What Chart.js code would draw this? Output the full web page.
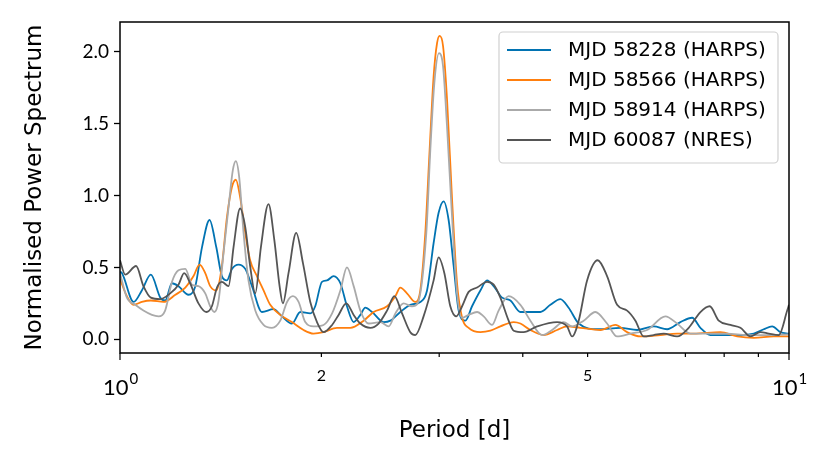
<!DOCTYPE html>
<html>
<head>
<meta charset="utf-8">
<script src="https://cdn.jsdelivr.net/npm/chart.js@4.4.0/dist/chart.umd.min.js"></script>
<style>
  html, body { margin: 0; padding: 0; background: #fff; }
  #wrap { width: 831px; height: 465px; }
</style>
</head>
<body>
<div id="wrap"><canvas id="chart" width="831" height="465"></canvas></div>
<script>
// Normalised periodograms, values (period in days)
const seriesLabels = ['MJD 58228 (HARPS)', 'MJD 58566 (HARPS)', 'MJD 58914 (HARPS)', 'MJD 60087 (NRES)'];
const seriesColors = ['#0173b2', '#ff7f0e', '#aaaaaa', '#555555'];

const periods58228 = [1.000,1.007,1.048,1.078,1.112,1.149,1.168,1.196,1.223,1.266,1.296,1.326,1.361,1.393,1.420,1.445,1.470,1.504,1.539,1.575,1.630,1.696,1.746,1.807,1.860,1.925,1.958,2.004,2.039,2.086,2.135,2.184,2.235,2.287,2.326,2.381,2.478,2.536,2.624,2.716,2.811,2.877,2.943,2.994,3.046,3.099,3.153,3.208,3.283,3.359,3.457,3.537,3.619,3.725,3.833,3.967,4.250,4.399,4.552,4.684,4.849,5.194,5.597,5.928,6.277,6.573,6.881,7.164,7.372,7.630,8.083,8.461,8.858,9.168,9.437,9.710,10.000];
const power58228 = [0.47,0.46,0.26,0.34,0.45,0.29,0.27,0.39,0.37,0.31,0.37,0.64,0.83,0.64,0.44,0.41,0.49,0.52,0.49,0.37,0.19,0.21,0.16,0.11,0.19,0.18,0.23,0.40,0.41,0.44,0.39,0.23,0.12,0.17,0.22,0.19,0.12,0.13,0.19,0.24,0.26,0.34,0.67,0.88,0.96,0.83,0.51,0.20,0.13,0.23,0.34,0.41,0.37,0.29,0.27,0.19,0.19,0.24,0.28,0.22,0.11,0.07,0.08,0.065,0.09,0.07,0.12,0.15,0.08,0.03,0.03,0.03,0.04,0.07,0.09,0.05,0.04];

const periods58566 = [1.000,1.024,1.048,1.078,1.112,1.162,1.210,1.252,1.288,1.315,1.341,1.364,1.393,1.420,1.445,1.470,1.490,1.512,1.539,1.565,1.602,1.639,1.677,1.736,1.807,1.881,1.947,2.015,2.110,2.209,2.313,2.394,2.507,2.580,2.624,2.685,2.763,2.811,2.860,2.903,2.943,2.978,3.005,3.040,3.082,3.136,3.190,3.246,3.320,3.457,3.578,3.703,3.877,3.967,4.106,4.298,4.501,4.659,4.877,5.225,5.501,5.728,5.996,6.423,6.803,7.204,7.898,8.366,8.858,9.489,10.000];
const power58566 = [0.42,0.30,0.24,0.26,0.27,0.26,0.31,0.36,0.44,0.52,0.46,0.37,0.34,0.51,0.85,1.06,1.11,0.99,0.74,0.55,0.44,0.34,0.24,0.17,0.12,0.065,0.04,0.05,0.08,0.08,0.13,0.19,0.23,0.30,0.36,0.32,0.26,0.34,0.74,1.32,1.83,2.06,2.11,2.04,1.67,0.97,0.39,0.15,0.08,0.05,0.06,0.09,0.12,0.11,0.065,0.03,0.065,0.09,0.08,0.065,0.10,0.05,0.02,0.03,0.04,0.04,0.05,0.02,0.01,0.02,0.02];

const periods58914 = [1.000,1.024,1.054,1.084,1.116,1.142,1.168,1.196,1.223,1.252,1.281,1.310,1.341,1.364,1.384,1.404,1.428,1.453,1.475,1.490,1.507,1.530,1.556,1.593,1.639,1.687,1.736,1.777,1.813,1.849,1.892,1.947,2.015,2.075,2.135,2.184,2.235,2.287,2.353,2.450,2.521,2.580,2.654,2.732,2.785,2.870,2.910,2.950,2.998,3.040,3.082,3.136,3.190,3.246,3.320,3.418,3.496,3.599,3.681,3.810,3.967,4.106,4.275,4.425,4.604,4.740,4.933,5.135,5.346,5.534,5.793,6.136,6.535,6.803,7.122,7.544,8.083,8.659,9.276,10.000];
const power58914 = [0.46,0.29,0.24,0.20,0.17,0.16,0.20,0.40,0.48,0.49,0.38,0.37,0.32,0.23,0.19,0.27,0.60,0.92,1.18,1.24,1.13,0.74,0.41,0.20,0.10,0.08,0.13,0.26,0.30,0.26,0.12,0.09,0.10,0.18,0.34,0.50,0.37,0.20,0.11,0.12,0.09,0.18,0.25,0.23,0.25,0.74,1.32,1.78,1.99,1.90,1.48,0.85,0.32,0.15,0.17,0.19,0.16,0.10,0.20,0.30,0.24,0.13,0.03,0.065,0.12,0.09,0.13,0.19,0.11,0.02,0.04,0.065,0.16,0.11,0.04,0.04,0.04,0.03,0.03,0.035];

const periods60087 = [1.000,1.018,1.057,1.084,1.112,1.149,1.189,1.223,1.247,1.273,1.310,1.346,1.372,1.396,1.420,1.453,1.478,1.512,1.539,1.565,1.593,1.624,1.667,1.701,1.732,1.752,1.786,1.834,1.877,1.925,1.970,2.015,2.075,2.122,2.179,2.235,2.287,2.367,2.435,2.507,2.571,2.640,2.716,2.763,2.843,2.943,2.994,3.054,3.117,3.182,3.246,3.320,3.418,3.537,3.619,3.703,3.810,3.877,4.012,4.202,4.501,4.659,4.740,4.849,4.991,5.176,5.346,5.534,5.728,5.894,6.064,6.277,6.497,6.803,7.081,7.372,7.612,7.852,8.175,8.461,8.757,9.064,9.327,9.654,9.938,10.000];
const power60087 = [0.55,0.45,0.51,0.37,0.29,0.28,0.32,0.38,0.46,0.39,0.25,0.19,0.23,0.36,0.40,0.37,0.64,0.91,0.78,0.51,0.32,0.64,0.94,0.69,0.37,0.25,0.46,0.74,0.53,0.26,0.12,0.05,0.10,0.17,0.25,0.17,0.11,0.08,0.11,0.20,0.30,0.18,0.05,0.03,0.16,0.41,0.57,0.46,0.23,0.16,0.23,0.33,0.36,0.40,0.38,0.29,0.13,0.06,0.05,0.09,0.12,0.09,0.02,0.13,0.41,0.55,0.44,0.24,0.20,0.13,0.02,0.03,0.04,0.02,0.08,0.19,0.23,0.13,0.10,0.08,0.02,0.05,0.04,0.03,0.20,0.24];

// axis ticks
const yTicks = [0.0, 0.5, 1.0, 1.5, 2.0];
const xMajorTicks = [1, 10];
const xMinorTicks = [2, 3, 4, 5, 6, 7, 8, 9];
const xMinorLabels = [2, 5];

const allPeriods = [periods58228, periods58566, periods58914, periods60087];
const allPower = [power58228, power58566, power58914, power60087];

const tickFont = 'Lato';
const titleFont = '23px "DejaVu Sans"';

// frame, log-axis ticks, titles and the legend box (matplotlib look)
const framePlugin = {
  id: 'framePlugin',
  afterDraw(chart) {
    const ctx = chart.ctx;
    const a = chart.chartArea;
    const xs = chart.scales.x;
    ctx.save();

    // box around the axes
    ctx.strokeStyle = '#000';
    ctx.lineWidth = 1.5;
    ctx.strokeRect(a.left, a.top, a.right - a.left, a.bottom - a.top);

    // x tick marks
    ctx.lineWidth = 1.2;
    xMajorTicks.forEach(v => {
      const px = xs.getPixelForValue(v);
      ctx.beginPath(); ctx.moveTo(px, a.bottom); ctx.lineTo(px, a.bottom + 7); ctx.stroke();
    });
    xMinorTicks.forEach(v => {
      const px = xs.getPixelForValue(v);
      ctx.beginPath(); ctx.moveTo(px, a.bottom); ctx.lineTo(px, a.bottom + 4); ctx.stroke();
    });

    // x tick labels
    ctx.fillStyle = '#000';
    ctx.textAlign = 'center';
    ctx.textBaseline = 'alphabetic';
    ctx.font = '16px ' + tickFont;
    xMinorLabels.forEach(v => {
      ctx.fillText(String(v), xs.getPixelForValue(v), a.bottom + 28);
    });
    xMajorTicks.forEach(v => {
      const px = xs.getPixelForValue(v);
      const exp = String(Math.round(Math.log10(v)));
      ctx.font = '22px ' + tickFont;
      const w1 = ctx.measureText('10').width;
      ctx.font = '15px ' + tickFont;
      const w2 = ctx.measureText(exp).width;
      const start = px - (w1 + w2) / 2;
      ctx.textAlign = 'left';
      ctx.font = '22px ' + tickFont;
      ctx.fillText('10', start, a.bottom + 42);
      ctx.font = '15px ' + tickFont;
      ctx.fillText(exp, start + w1 + 1, a.bottom + 31);
    });

    // axis titles
    ctx.textAlign = 'center';
    ctx.font = titleFont;
    ctx.fillText('Period [d]', (a.left + a.right) / 2, a.bottom + 84);
    ctx.save();
    ctx.translate(35, (a.top + a.bottom) / 2);
    ctx.rotate(-Math.PI / 2);
    ctx.textBaseline = 'middle';
    ctx.fillText('Normalised Power Spectrum', 0, 0);
    ctx.restore();

    // legend
    const lx = 499, ly = 32, lw = 279, lh = 131;
    ctx.beginPath();
    ctx.roundRect(lx, ly, lw, lh, 4);
    ctx.fillStyle = 'rgba(255,255,255,0.85)';
    ctx.fill();
    ctx.strokeStyle = '#d0d0d0';
    ctx.lineWidth = 1.2;
    ctx.stroke();
    ctx.font = '20px "DejaVu Sans"';
    ctx.textAlign = 'left';
    ctx.textBaseline = 'middle';
    seriesLabels.forEach((lab, i) => {
      const yy = ly + 18 + i * 30;
      ctx.strokeStyle = seriesColors[i];
      ctx.lineWidth = 2;
      ctx.beginPath(); ctx.moveTo(lx + 8, yy); ctx.lineTo(lx + 52, yy); ctx.stroke();
      ctx.fillStyle = '#000';
      ctx.fillText(lab, lx + 69, yy + 1);
    });
    ctx.restore();
  }
};

const datasets = seriesLabels.map((lab, i) => ({
  label: lab,
  data: allPeriods[i].map((p, j) => ({ x: p, y: allPower[i][j] })),
  borderColor: seriesColors[i],
  borderWidth: 1.8,
  pointRadius: 0,
  fill: false,
  cubicInterpolationMode: 'monotone',
  order: seriesLabels.length - i
}));

new Chart(document.getElementById('chart').getContext('2d'), {
  type: 'line',
  data: { datasets: datasets },
  options: {
    responsive: false,
    animation: false,
    devicePixelRatio: 1,
    layout: { padding: { top: 22, right: 42, left: 0, bottom: 0 } },
    plugins: { legend: { display: false }, tooltip: { enabled: false } },
    scales: {
      x: {
        type: 'logarithmic',
        min: 1,
        max: 10,
        afterFit: s => { s.height = 112; },
        ticks: { display: false },
        grid: { display: false },
        border: { display: false }
      },
      y: {
        min: -0.095,
        max: 2.207,
        afterBuildTicks: s => { s.ticks = yTicks.map(v => ({ value: v })); },
        afterFit: s => { s.width = 120; },
        grid: { drawOnChartArea: false, drawTicks: true, tickLength: 6, color: '#000', tickColor: '#000', tickWidth: 1.3 },
        border: { display: false },
        ticks: { color: '#000', font: { family: tickFont, size: 19 }, padding: 5, callback: v => v.toFixed(1) }
      }
    }
  },
  plugins: [framePlugin]
});
</script>
</body>
</html>
